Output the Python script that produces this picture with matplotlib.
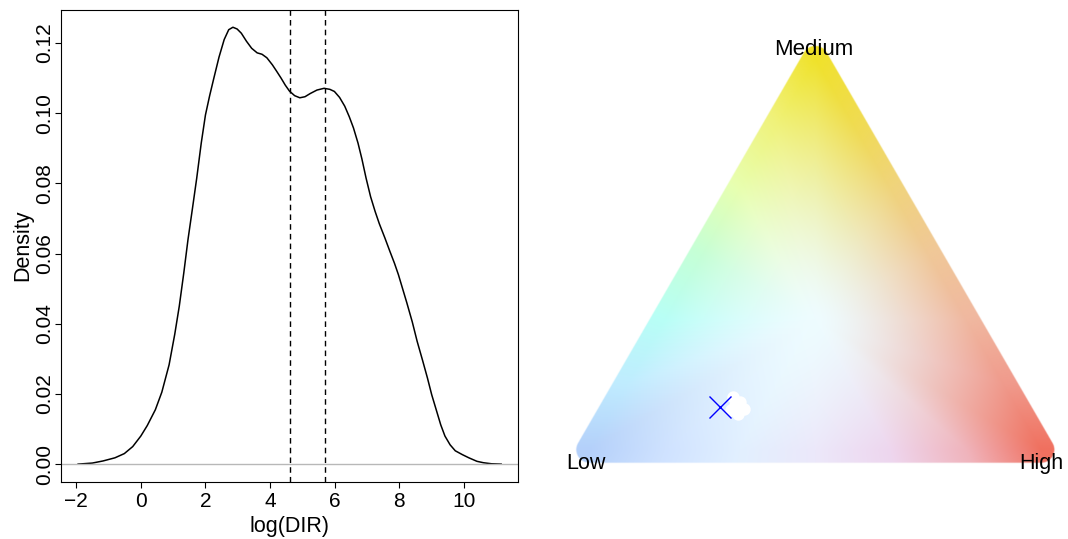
import numpy as np
import matplotlib
matplotlib.use('Agg')
import matplotlib.pyplot as plt
from matplotlib.colors import to_rgb

plt.rcParams['font.family'] = ['Liberation Sans', 'DejaVu Sans']

# density of log(DIR)
dens_x = [-1.94, -1.5, -1.17, -0.8, -0.51, -0.25, 0.0, 0.2, 0.45, 0.65,
          0.875, 1.05, 1.19, 1.33, 1.46, 1.6, 1.73, 1.87, 2.0, 2.13,
          2.26, 2.42, 2.58, 2.72, 2.85, 2.98, 3.11, 3.27, 3.43, 3.6,
          3.75, 3.9, 4.07, 4.2, 4.34, 4.47, 4.6, 4.76, 4.92, 5.08,
          5.24, 5.45, 5.67, 5.85, 5.99, 6.15, 6.31, 6.45, 6.58, 6.72,
          6.84, 6.97, 7.11, 7.25, 7.38, 7.55, 7.7, 7.85, 7.97, 8.1,
          8.23, 8.4, 8.55, 8.72, 8.87, 9.0, 9.14, 9.28, 9.41, 9.57,
          9.73, 9.95, 10.15, 10.4, 10.6, 10.85, 11.15]
dens_y = [0.0, 0.0003, 0.0009, 0.0018, 0.003, 0.005, 0.008, 0.011, 0.0155, 0.0205,
          0.0283, 0.037, 0.045, 0.0545, 0.064, 0.073, 0.0815, 0.0915, 0.0995, 0.105,
          0.11, 0.116, 0.121, 0.1238, 0.1245, 0.124, 0.1228, 0.1205, 0.1185, 0.1172,
          0.1168, 0.1158, 0.1138, 0.112, 0.11, 0.108, 0.1063, 0.105, 0.1044, 0.1047,
          0.1056, 0.1066, 0.1071, 0.1068, 0.1062, 0.1045, 0.102, 0.099, 0.0958, 0.0915,
          0.087, 0.0815, 0.0762, 0.072, 0.0685, 0.0645, 0.0608, 0.0572, 0.054, 0.05,
          0.046, 0.0405, 0.035, 0.0295, 0.0245, 0.0198, 0.0155, 0.0112, 0.008, 0.0055,
          0.0038, 0.0027, 0.0018, 0.0008, 0.0004, 0.0001, 0.0]
# dashed cut-offs: log(100) and log(300)
cutoffs = [4.605, 5.704]
x_ticks = [-2, 0, 2, 4, 6, 8, 10]
y_ticks = [0.0, 0.02, 0.04, 0.06, 0.08, 0.10, 0.12]

# ternary colour key; compositions are (Low, Medium, High)
corner_labels = ['Low', 'Medium', 'High']
# colours round the edge, every sixth of a side: Low -> Medium -> High -> Low
edge_colors = [
    '#b4d0fa', '#c0ecff', '#b8fff6', '#c6ffd6', '#e8ffb0', '#f0f27a',
    '#f0e22a', '#f0dc50', '#f0d47c', '#f0c898', '#f0b8a0', '#f09a8c',
    '#f0705f', '#f0b4bc', '#eed6ee', '#ece8fa', '#e2f0ff', '#cfe2ff',
]
center_color = '#eefcff'
mean_comp = (0.655, 0.109, 0.236)
blob_comp = [(0.613, 0.136, 0.251), (0.604, 0.123, 0.273), (0.604, 0.105, 0.291),
             (0.624, 0.092, 0.284), (0.634, 0.102, 0.264), (0.619, 0.115, 0.266)]

H = np.sqrt(3) / 2


def to_xy(comp):
    c = np.asarray(comp, dtype=float)
    return c[..., 2] + c[..., 1] / 2, c[..., 1] * H


def seg_dist(px, py, ax_, ay, bx, by):
    dx, dy = bx - ax_, by - ay
    t = np.clip(((px - ax_) * dx + (py - ay) * dy) / (dx * dx + dy * dy), 0, 1)
    return np.hypot(px - (ax_ + t * dx), py - (ay + t * dy))


def key_rgb(b):
    # radial blend between the pale centre and the colour on the edge
    rho = 1 - 3 * b.min(axis=-1)
    e = 1 / 3 + (b - 1 / 3) / np.maximum(rho, 1e-9)[..., None]
    e = np.clip(e, 0, 1)
    k = b.argmin(axis=-1)
    s = np.where(k == 2, e[..., 1], np.where(k == 0, 1 + e[..., 2], 2 + e[..., 0]))
    pos = np.arange(len(edge_colors)) / 6
    rgb = np.array([to_rgb(c) for c in edge_colors])
    cen = np.array(to_rgb(center_color))
    g = rho ** 1.4
    out = np.empty(b.shape)
    for i in range(3):
        edge = np.interp(s, pos, rgb[:, i], period=3)
        out[..., i] = cen[i] + g * (edge - cen[i])
    return out


def draw_density(ax):
    ax.plot(dens_x, dens_y, color='black', lw=1.1)
    ax.axhline(0, color='#b8b8b8', lw=1)
    for c in cutoffs:
        ax.axvline(c, color='black', lw=1, ls=(0, (4, 3)))
    ax.set_xlim(-2.46, 11.67)
    ax.set_ylim(-0.00498, 0.1295)
    ax.set_xticks(x_ticks)
    ax.set_xticklabels(['\u22122' if t < 0 else str(t) for t in x_ticks])
    ax.set_yticks(y_ticks)
    ax.set_yticklabels(['%.2f' % t for t in y_ticks], rotation=90, va='center')
    ax.tick_params(direction='out', length=4.5, width=0.8, labelsize=15, pad=3)
    ax.tick_params(axis='y', pad=1)
    for s in ax.spines.values():
        s.set_linewidth(0.8)
    ax.set_xlabel('log(DIR)', fontsize=15.5)
    ax.set_ylabel('Density', fontsize=15.5)
    ax.xaxis.set_label_coords(0.5, -0.072)
    ax.yaxis.set_label_coords(-0.062, 0.5)


def draw_key(ax):
    step = 0.0015
    gx = np.arange(-0.04, 1.04, step)
    gy = np.arange(-0.04, 0.91, step)
    X, Y = np.meshgrid(gx, gy)
    m = Y / H
    h = X - m / 2
    l = 1 - m - h
    b = np.stack([l, m, h], axis=-1)
    inside = np.all(b >= 0, axis=-1)
    d = np.minimum.reduce([
        seg_dist(X, Y, 0, 0, 1, 0),
        seg_dist(X, Y, 1, 0, 0.5, H),
        seg_dist(X, Y, 0.5, H, 0, 0),
    ])
    d[inside] = 0
    r = 0.029
    alpha = np.clip((r - d) / (1 / 451) + 0.5, 0, 1)

    b = np.clip(b, 0, None)
    b = b / b.sum(axis=-1, keepdims=True)
    img = np.ones(X.shape + (4,))
    img[..., :3] = np.clip(key_rgb(b), 0, 1)
    img[..., 3] = alpha
    ax.imshow(img, extent=(gx[0], gx[-1] + step, gy[0], gy[-1] + step),
              origin='lower', interpolation='bilinear', zorder=1)

    bx, by = to_xy(blob_comp)
    ax.scatter(bx, by, s=80, color='white', lw=0, zorder=2)
    mx, my = to_xy(mean_comp)
    ax.plot(mx, my, marker='x', color='blue', ms=15.5, mew=1.0, zorder=3)

    ax.text(-0.007, -0.031, corner_labels[0], ha='center', va='center', fontsize=15.5)
    ax.text(0.499, 0.889, corner_labels[1], ha='center', va='center', fontsize=16)
    ax.text(1.004, -0.031, corner_labels[2], ha='center', va='center', fontsize=15.5)

    ax.set_xlim(-0.1086, 1.0621)
    ax.set_ylim(-0.1973, 0.9978)
    ax.axis('off')


def main():
    fig = plt.figure(figsize=(10.68, 5.39), dpi=100)
    ax1 = fig.add_axes([0.0574, 0.1065, 0.4276, 0.8755])
    draw_density(ax1)
    ax2 = fig.add_axes([540 / 1068, 0, 528 / 1068, 1])
    draw_key(ax2)
    fig.savefig('out.png', dpi=100)


if __name__ == "__main__":
    main()
